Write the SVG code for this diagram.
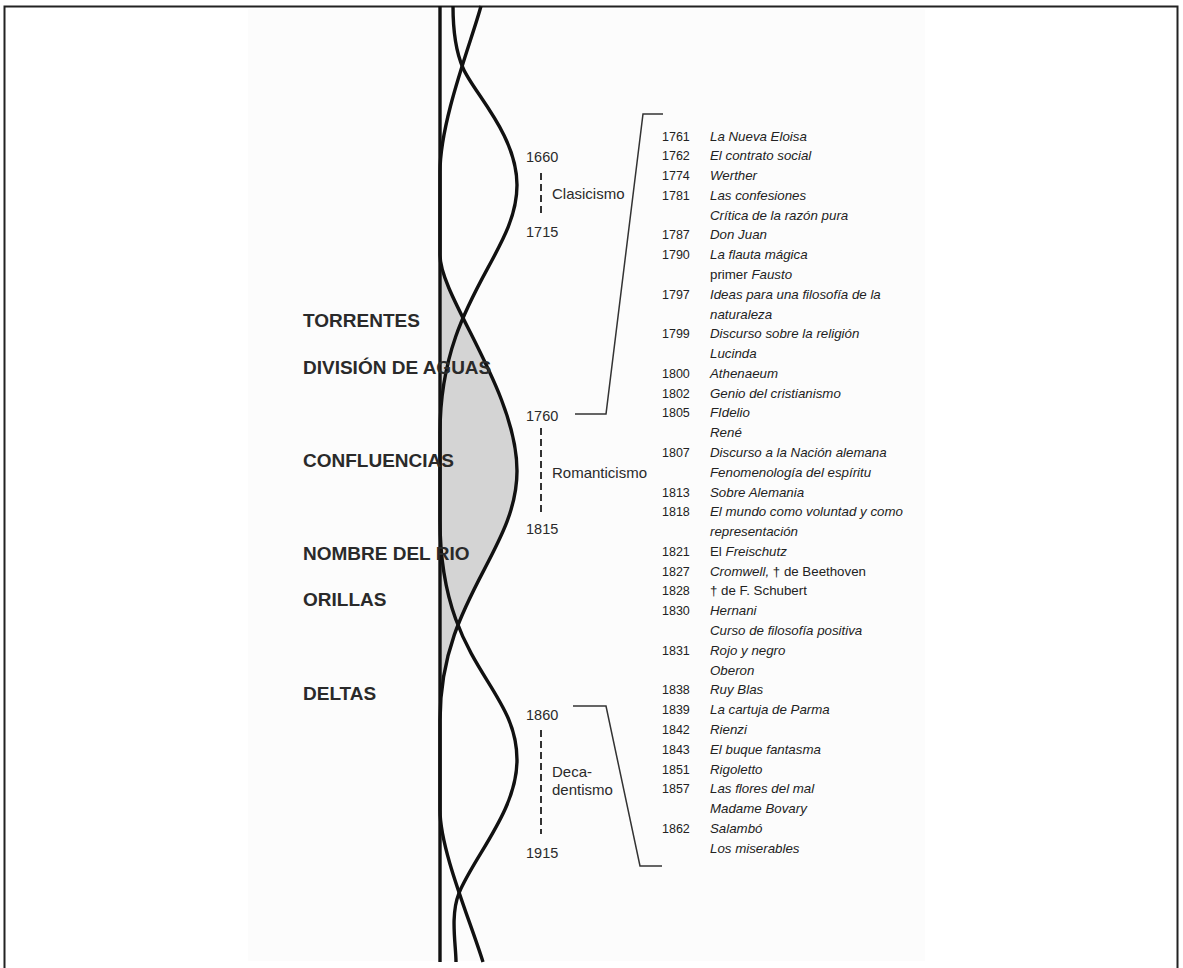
<svg xmlns="http://www.w3.org/2000/svg" width="1183" height="968" viewBox="0 0 1183 968">
<style>
.lbl{font-family:"Liberation Sans",Arial,sans-serif;font-size:19px;font-weight:bold;fill:#2a2a2a}
.yr{font-family:"Liberation Sans",Arial,sans-serif;font-size:14.5px;fill:#2a2a2a}
.per{font-family:"Liberation Sans",Arial,sans-serif;font-size:15px;fill:#2a2a2a}
.ly{font-family:"Liberation Sans",Arial,sans-serif;font-size:12.5px;fill:#222}
.lt{font-family:"Liberation Sans",Arial,sans-serif;font-size:13.3px;font-style:italic;fill:#222}
.up{font-style:normal}
.curve{fill:none;stroke:#111;stroke-width:3.4;stroke-linejoin:round}
.dash{fill:none;stroke:#333;stroke-width:2;stroke-dasharray:7 4}
.brk{fill:none;stroke:#333;stroke-width:1.5}
</style>
<rect x="0" y="0" width="1183" height="968" fill="#fff"/>
<rect x="248" y="9" width="677" height="952" fill="#fcfcfc"/>
<rect x="4.5" y="6.5" width="1173" height="972" fill="none" stroke="#222" stroke-width="2"/>

<g id="shading">
<path d="M 440 255 C 440 297, 517 391, 517 471 C 517 551, 440 600, 440 720 Z" fill="#d4d4d4"/>
</g>

<g id="connectors">
<line class="curve" x1="440" y1="6" x2="440" y2="962" stroke-width="3"/>
<path id="curveQ" class="curve" d="M 481 6 C 472 40, 440 120, 440 172 L 440 255 C 440 297, 517 391, 517 471 C 517 551, 440 600, 440 720 L 440 810 C 440 850, 470 920, 483 962"/>
<path id="curveP" class="curve" d="M 453 6 C 453 30, 456 52, 463 68 C 473 92, 517 135, 517 185 C 517 255, 440 300, 440 433 L 440 520 C 440 665, 517 685, 517 760 C 517 810, 475 855, 459 893 C 450 916, 456 945, 456 962"/>
<line class="dash" x1="541" y1="173" x2="541" y2="217"/>
<line class="dash" x1="541" y1="428" x2="541" y2="513"/>
<line class="dash" x1="541" y1="730" x2="541" y2="834"/>
<path class="brk" d="M 663 114 L 643 114 L 606 414 L 575 414"/>
<path class="brk" d="M 573 706 L 606 706 L 640 866 L 662 866"/>
</g>

<g id="labels">
<text class="lbl" x="303" y="327">TORRENTES</text>
<text class="lbl" x="303" y="374">DIVISIÓN DE AGUAS</text>
<text class="lbl" x="303" y="467">CONFLUENCIAS</text>
<text class="lbl" x="303" y="560">NOMBRE DEL RIO</text>
<text class="lbl" x="303" y="606">ORILLAS</text>
<text class="lbl" x="303" y="700">DELTAS</text>
</g>

<g id="period-clasicismo">
<text class="yr" x="526" y="162">1660</text>
<text class="per" x="552" y="199">Clasicismo</text>
<text class="yr" x="526" y="237">1715</text>
</g>
<g id="period-romanticismo">
<text class="yr" x="526" y="421">1760</text>
<text class="per" x="552" y="478">Romanticismo</text>
<text class="yr" x="526" y="534">1815</text>
</g>
<g id="period-decadentismo">
<text class="yr" x="526" y="720">1860</text>
<text class="per" x="552" y="777">Deca-</text>
<text class="per" x="552" y="795">dentismo</text>
<text class="yr" x="526" y="858">1915</text>
</g>

<g id="chronology">
<text class="ly" x="662" y="140.5">1761</text><text class="lt" x="710" y="140.5">La Nueva Eloisa</text>
<text class="ly" x="662" y="160.3">1762</text><text class="lt" x="710" y="160.3">El contrato social</text>
<text class="ly" x="662" y="180.1">1774</text><text class="lt" x="710" y="180.1">Werther</text>
<text class="ly" x="662" y="199.8">1781</text><text class="lt" x="710" y="199.8">Las confesiones</text>
<text class="lt" x="710" y="219.6">Crítica de la razón pura</text>
<text class="ly" x="662" y="239.4">1787</text><text class="lt" x="710" y="239.4">Don Juan</text>
<text class="ly" x="662" y="259.2">1790</text><text class="lt" x="710" y="259.2">La flauta mágica</text>
<text class="lt" x="710" y="279.0"><tspan class="up">primer</tspan> Fausto</text>
<text class="ly" x="662" y="298.7">1797</text><text class="lt" x="710" y="298.7">Ideas para una filosofía de la</text>
<text class="lt" x="710" y="318.5">naturaleza</text>
<text class="ly" x="662" y="338.3">1799</text><text class="lt" x="710" y="338.3">Discurso sobre la religión</text>
<text class="lt" x="710" y="358.1">Lucinda</text>
<text class="ly" x="662" y="377.9">1800</text><text class="lt" x="710" y="377.9">Athenaeum</text>
<text class="ly" x="662" y="397.6">1802</text><text class="lt" x="710" y="397.6">Genio del cristianismo</text>
<text class="ly" x="662" y="417.4">1805</text><text class="lt" x="710" y="417.4">FIdelio</text>
<text class="lt" x="710" y="437.2">René</text>
<text class="ly" x="662" y="457.0">1807</text><text class="lt" x="710" y="457.0">Discurso a la Nación alemana</text>
<text class="lt" x="710" y="476.8">Fenomenología del espíritu</text>
<text class="ly" x="662" y="496.5">1813</text><text class="lt" x="710" y="496.5">Sobre Alemania</text>
<text class="ly" x="662" y="516.3">1818</text><text class="lt" x="710" y="516.3">El mundo como voluntad y como</text>
<text class="lt" x="710" y="536.1">representación</text>
<text class="ly" x="662" y="555.9">1821</text><text class="lt" x="710" y="555.9"><tspan class="up">El</tspan> Freischutz</text>
<text class="ly" x="662" y="575.7">1827</text><text class="lt" x="710" y="575.7">Cromwell, <tspan class="up">† de Beethoven</tspan></text>
<text class="ly" x="662" y="595.4">1828</text><text class="lt up" x="710" y="595.4">† de F. Schubert</text>
<text class="ly" x="662" y="615.2">1830</text><text class="lt" x="710" y="615.2">Hernani</text>
<text class="lt" x="710" y="635.0">Curso de filosofía positiva</text>
<text class="ly" x="662" y="654.8">1831</text><text class="lt" x="710" y="654.8">Rojo y negro</text>
<text class="lt" x="710" y="674.6">Oberon</text>
<text class="ly" x="662" y="694.3">1838</text><text class="lt" x="710" y="694.3">Ruy Blas</text>
<text class="ly" x="662" y="714.1">1839</text><text class="lt" x="710" y="714.1">La cartuja de Parma</text>
<text class="ly" x="662" y="733.9">1842</text><text class="lt" x="710" y="733.9">Rienzi</text>
<text class="ly" x="662" y="753.7">1843</text><text class="lt" x="710" y="753.7">El buque fantasma</text>
<text class="ly" x="662" y="773.5">1851</text><text class="lt" x="710" y="773.5">Rigoletto</text>
<text class="ly" x="662" y="793.2">1857</text><text class="lt" x="710" y="793.2">Las flores del mal</text>
<text class="lt" x="710" y="813.0">Madame Bovary</text>
<text class="ly" x="662" y="832.8">1862</text><text class="lt" x="710" y="832.8">Salambó</text>
<text class="lt" x="710" y="852.6">Los miserables</text>
</g>
</svg>
